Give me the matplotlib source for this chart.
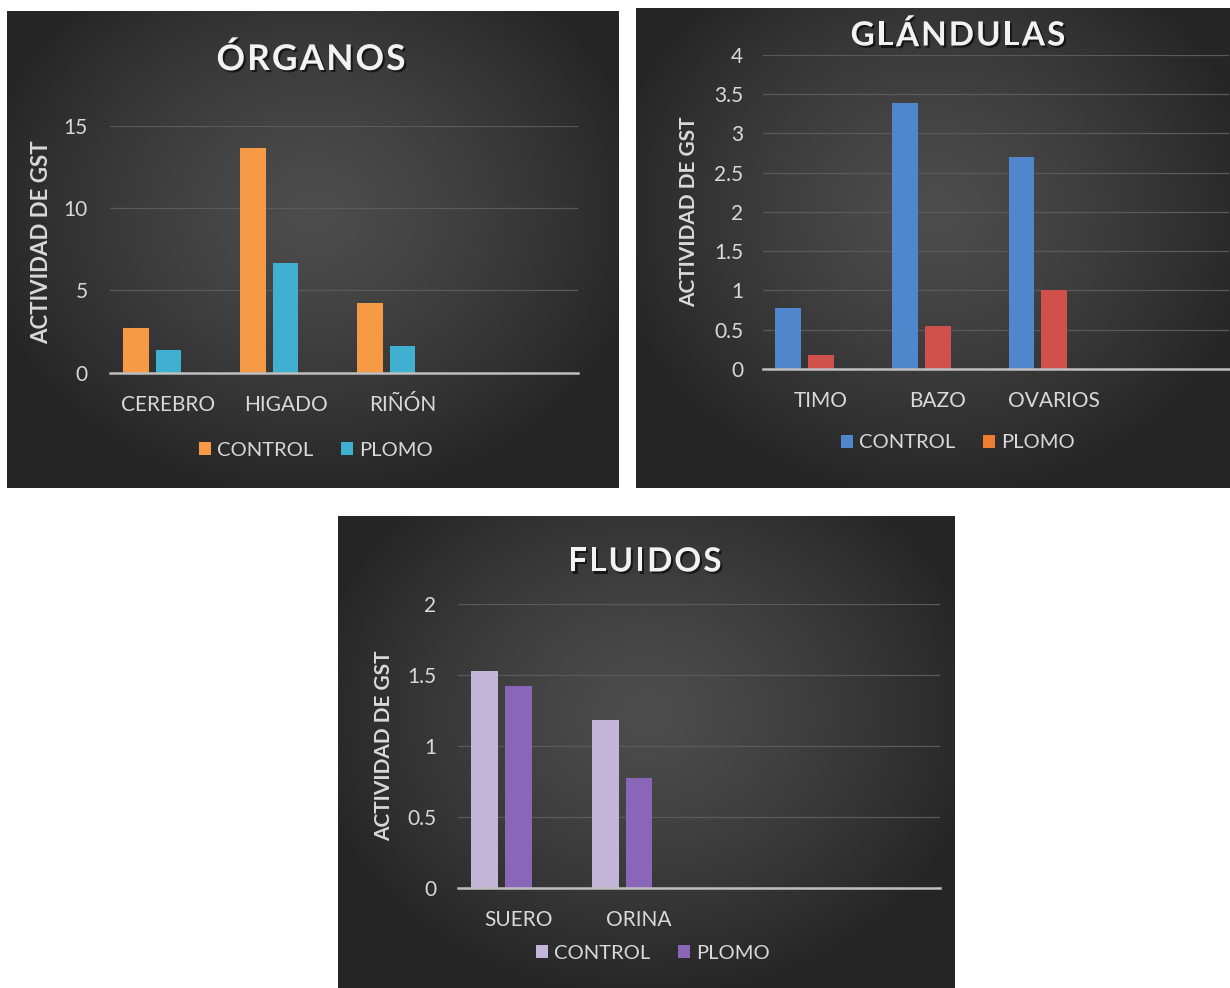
import numpy as np
import matplotlib
matplotlib.use("Agg")
import matplotlib.pyplot as plt
from matplotlib.patches import Patch
import matplotlib.patheffects as pe

##### Data #####
series_names = ["CONTROL", "PLOMO"]

organos_cats = ["CEREBRO", "HIGADO", "RIÑÓN", ""]
organos_control = [2.71, 13.64, 4.21]
organos_plomo = [1.38, 6.69, 1.61]
organos_ticks = [0, 5, 10, 15]

glandulas_cats = ["TIMO", "BAZO", "OVARIOS", ""]
glandulas_control = [0.77, 3.39, 2.70]
glandulas_plomo = [0.18, 0.55, 1.00]
glandulas_ticks = [0, 0.5, 1, 1.5, 2, 2.5, 3, 3.5, 4]

fluidos_cats = ["SUERO", "ORINA", "", ""]
fluidos_control = [1.53, 1.18]
fluidos_plomo = [1.42, 0.77]
fluidos_ticks = [0, 0.5, 1, 1.5, 2]

##### Figure setup #####
W, H = 1230, 988
fig = plt.figure(figsize=(W / 100, H / 100), dpi=100)
fig.patch.set_facecolor("white")
plt.rcParams["font.family"] = ["Lato", "DejaVu Sans"]
renderer = fig.canvas.get_renderer()

TXT = "#d9d9d9"
GRID = "#5a5a5a"
AXLINE = "#bfbfbf"


def px_rect(x0, y0, x1, y1):
    # pixel box (top-left origin) -> figure fraction
    return [x0 / W, 1 - y1 / H, (x1 - x0) / W, (y1 - y0) / H]


def background(box):
    ax = fig.add_axes(px_rect(*box), zorder=0)
    ny, nx = 200, 260
    yy, xx = np.mgrid[0:1:ny * 1j, 0:1:nx * 1j]
    r = np.sqrt(((xx - 0.5) / 0.55) ** 2 + ((yy - 0.42) / 0.6) ** 2)
    t = np.clip(r, 0, 1) ** 1.3
    c0 = np.array([0.30, 0.30, 0.30])
    c1 = np.array([0.15, 0.15, 0.15])
    img = c0[None, None, :] * (1 - t[..., None]) + c1[None, None, :] * t[..., None]
    ax.imshow(img, extent=[0, 1, 0, 1], aspect="auto", interpolation="bilinear")
    ax.set_axis_off()
    return ax


def spaced_title(xc, yc, s, size=24, gap=2):
    # title with letter spacing, like the Excel chart title
    kw = dict(fontsize=size, fontweight="bold", color="#f2f2f2", va="center", ha="left", zorder=5,
              path_effects=[pe.withSimplePatchShadow(offset=(1.5, -1.5), shadow_rgbFace="black", alpha=0.6)])
    widths = []
    for ch in s:
        t = fig.text(0, 0, ch, **kw)
        widths.append(t.get_window_extent(renderer).width)
        t.remove()
    total = sum(widths) + gap * (len(s) - 1)
    x = xc - total / 2
    for ch, w in zip(s, widths):
        fig.text(x / W, 1 - yc / H, ch, **kw)
        x += w + gap


def panel(box, plot_box, title, title_xy, title_size, cats, control, plomo, ticks, ylim,
          colors, legend_colors, legend_xy, ylabel_xy, ylabel_size, ytick_pad):
    background(box)
    ax = fig.add_axes(px_rect(*plot_box), zorder=2)
    ax.patch.set_alpha(0)

    step = 0.28
    width = 0.222
    x = np.arange(len(control))
    ax.bar(x - step, control, width, color=colors[0], zorder=3)
    ax.bar(x, plomo, width, color=colors[1], zorder=3)

    ax.set_xlim(-0.5, len(cats) - 0.5)
    ax.set_ylim(*ylim)
    ax.set_xticks(np.arange(len(cats)))
    ax.set_xticklabels(cats)
    ax.set_yticks(ticks)
    ax.set_yticklabels(["%g" % t for t in ticks])
    ax.tick_params(axis="x", length=0, pad=16, labelsize=15, labelcolor=TXT)
    ax.tick_params(axis="y", length=0, pad=ytick_pad, labelsize=15, labelcolor=TXT)
    for s in ["top", "right", "left"]:
        ax.spines[s].set_visible(False)
    ax.spines["bottom"].set_color(AXLINE)
    ax.spines["bottom"].set_linewidth(1.8)
    ax.spines["bottom"].set_zorder(4)
    ax.yaxis.grid(True, color=GRID, linewidth=0.9, zorder=1)
    ax.set_axisbelow(True)

    spaced_title(title_xy[0], title_xy[1], title, size=title_size)

    # y label
    fig.text(ylabel_xy[0] / W, 1 - ylabel_xy[1] / H, "ACTIVIDAD DE GST", rotation=90,
             ha="center", va="center", fontsize=ylabel_size, fontweight="bold", color=TXT, zorder=5)

    # legend
    handles = [Patch(facecolor=legend_colors[0]), Patch(facecolor=legend_colors[1])]
    leg = ax.legend(handles, series_names, loc="center", ncol=2, frameon=False,
                    bbox_to_anchor=(legend_xy[0] / W, 1 - legend_xy[1] / H),
                    bbox_transform=fig.transFigure, fontsize=14.5, handlelength=0.6,
                    handleheight=0.6, handletextpad=0.3, columnspacing=1.4)
    for t in leg.get_texts():
        t.set_color(TXT)
    return ax


##### ÓRGANOS #####
panel((7, 11, 619, 488), (110, 126, 578, 372.7), "ÓRGANOS", (311, 60), 25.5,
      organos_cats, organos_control, organos_plomo, organos_ticks, (0, 15),
      ("#f79a45", "#3fb0d0"), ("#f79a45", "#3fb0d0"), (316, 450), (42, 242), 16, 16)

##### GLÁNDULAS #####
panel((636, 8, 1230, 488), (762.7, 54.7, 1229, 369), "GLÁNDULAS", (958, 36), 24,
      glandulas_cats, glandulas_control, glandulas_plomo, glandulas_ticks, (0, 4),
      ("#4f86cc", "#d0504c"), ("#4f86cc", "#ed7d31"), (958, 443), (689, 212), 15, 14)

##### FLUIDOS #####
panel((338, 516, 955, 988), (458.3, 604, 940, 887.7), "FLUIDOS", (645, 562), 24,
      fluidos_cats, fluidos_control, fluidos_plomo, fluidos_ticks, (0, 2),
      ("#c3b6d8", "#8a66b8"), ("#c3b6d8", "#8a66b8"), (653, 953), (384, 746), 15, 16)

plt.savefig("out.png", dpi=100, facecolor="white")
